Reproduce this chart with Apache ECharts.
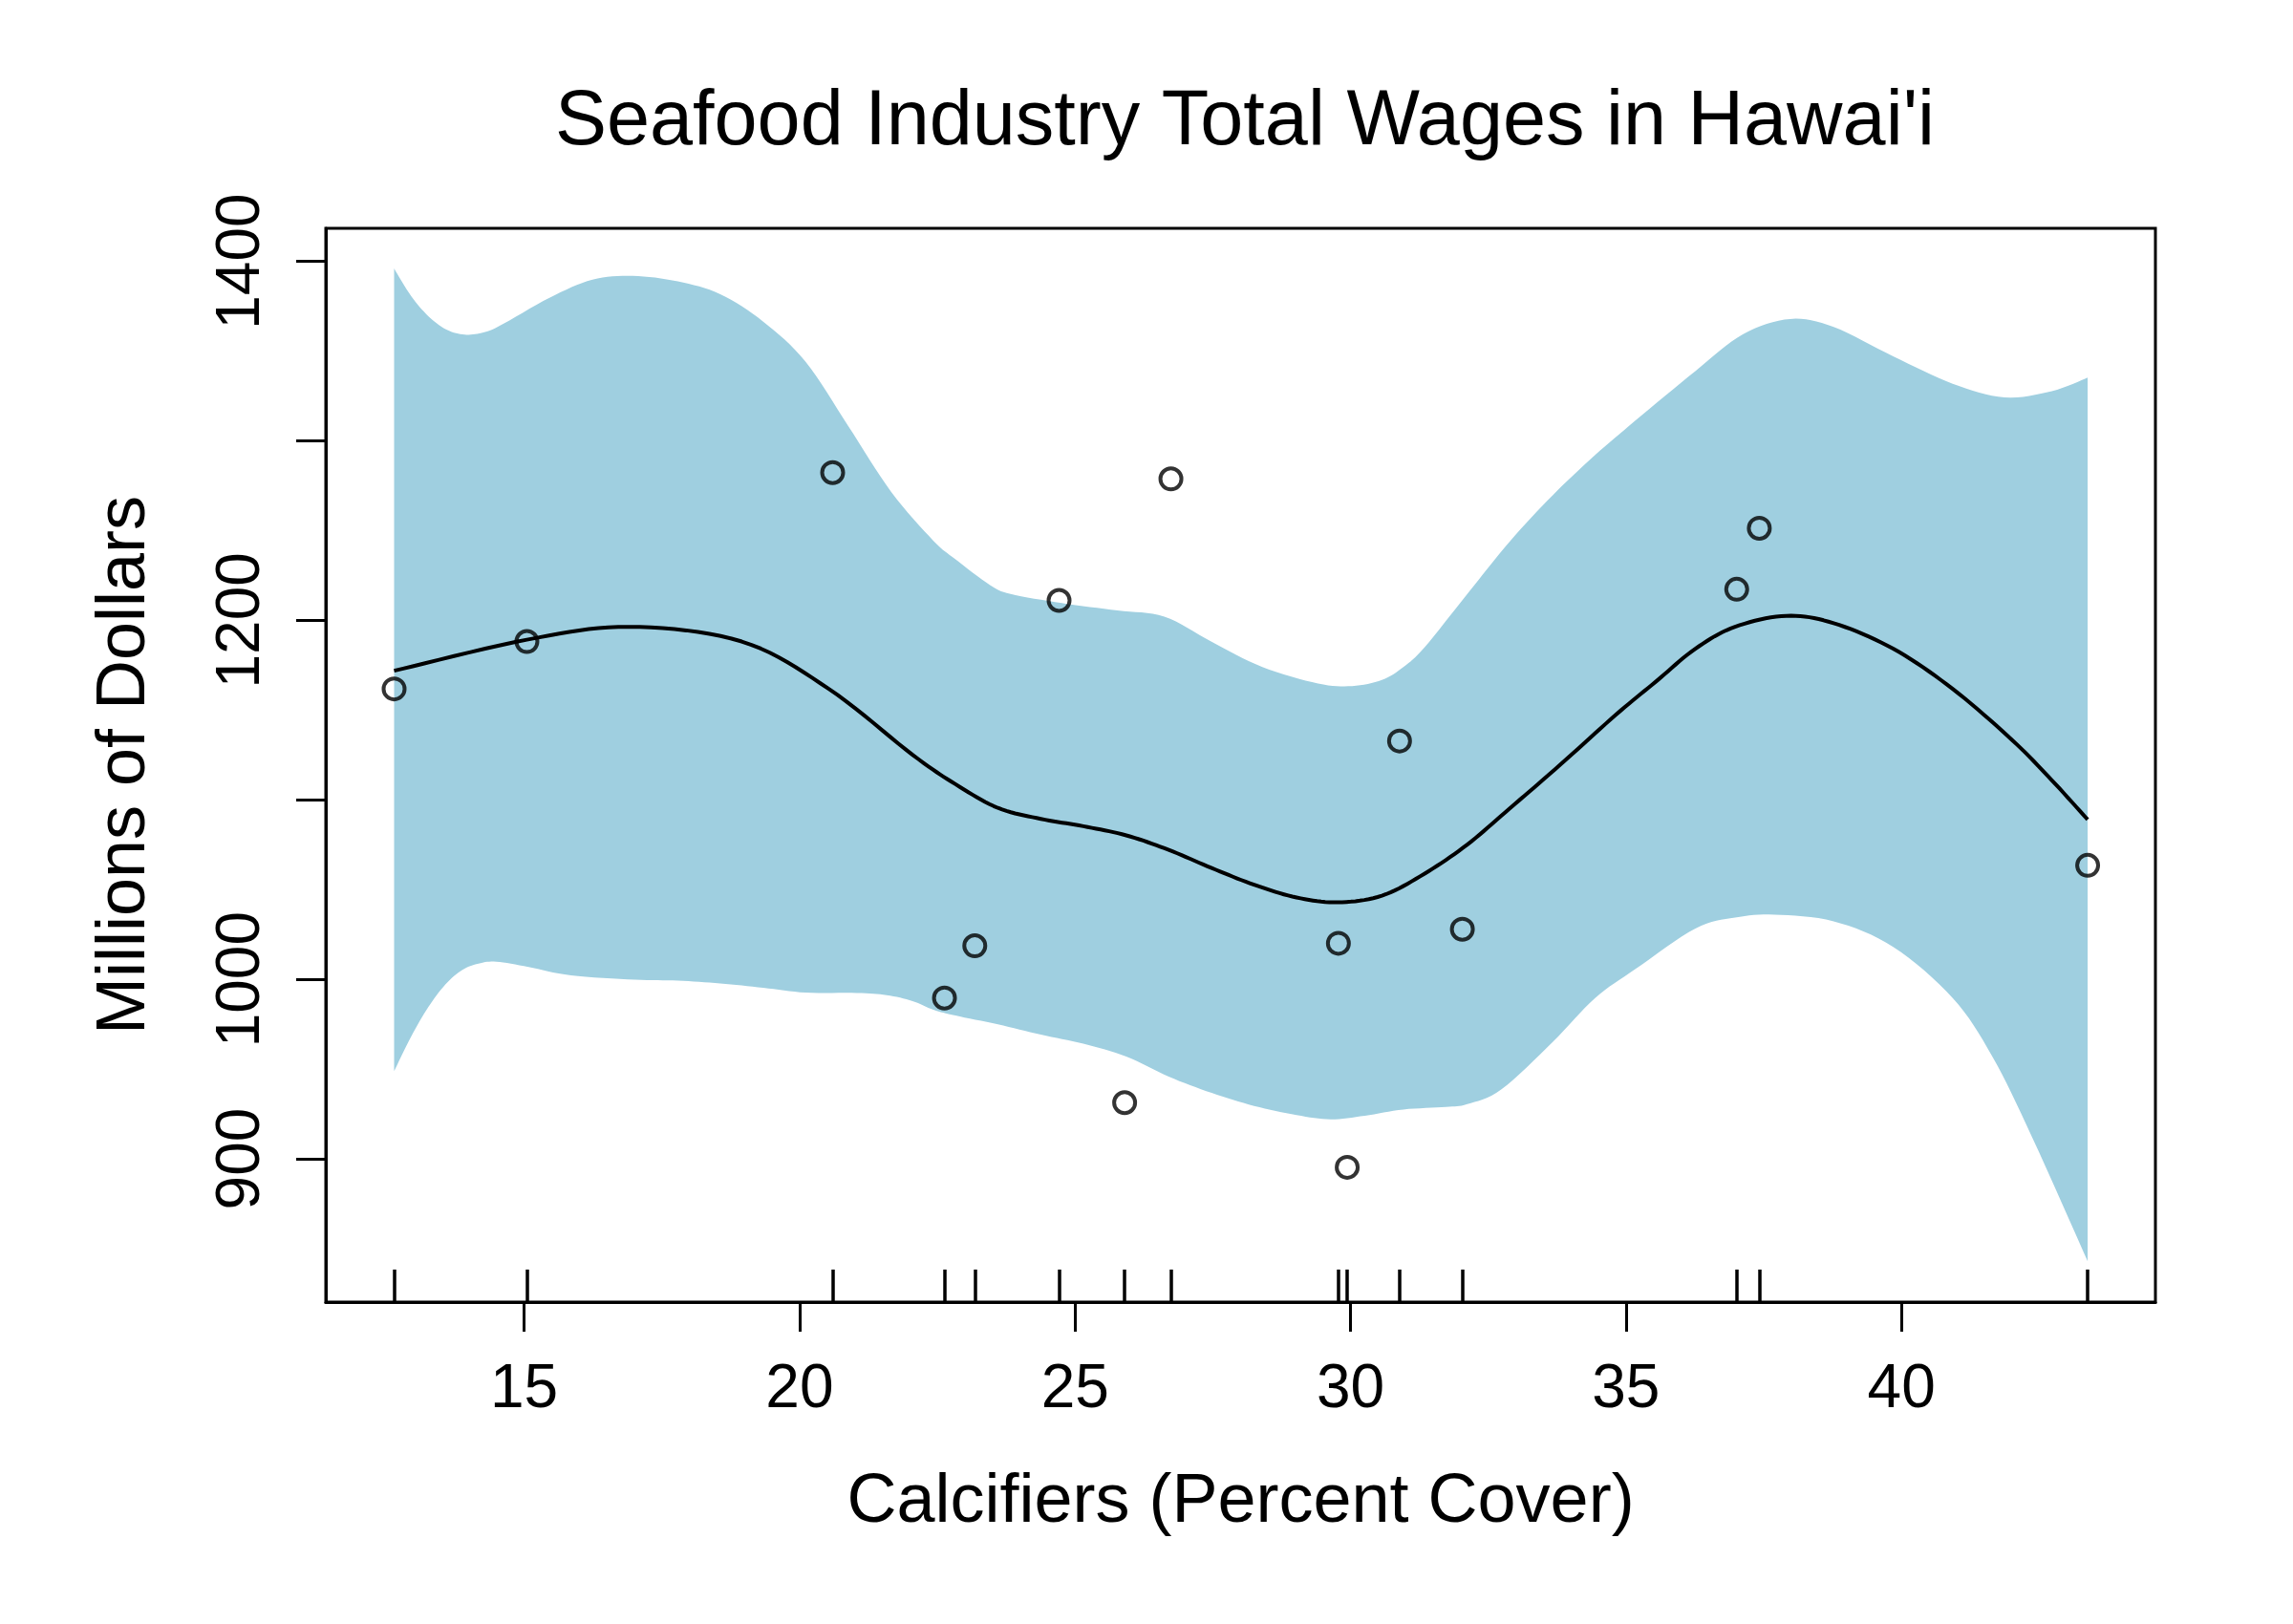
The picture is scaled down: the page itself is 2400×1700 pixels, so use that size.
<!DOCTYPE html>
<html>
<head>
<meta charset="utf-8">
<script src="https://cdn.jsdelivr.net/npm/echarts@6/dist/echarts.min.js"></script>
<style>html,body{margin:0;padding:0;background:#fff}#c{width:2400px;height:1700px}</style>
</head>
<body>
<div id="c"></div>
<script>
// Observed data
const calcifiers = [12.64, 15.05, 20.60, 22.63, 23.18, 24.71, 25.90, 26.74, 29.78, 29.94, 30.89, 32.03, 37.01, 37.42, 43.38];
const wages = [1161.8, 1188.2, 1282.3, 989.6, 1018.7, 1211.1, 931.3, 1278.8, 1020.1, 895.3, 1132.8, 1027.9, 1217.3, 1251.3, 1063.5];

// Fitted smooth curve
const fitX = [12.64, 15.05, 16.9, 18.95, 20.53, 22.05, 22.83, 23.60, 24.38, 25.15, 25.93, 26.70, 27.48, 28.25, 29.02, 29.77, 30.57, 31.34, 32.12, 32.90, 33.82, 34.82, 35.54, 36.26, 36.98, 37.91, 38.77, 39.85, 40.93, 42.01, 42.73, 43.38];
const fitY = [1171.9, 1189.2, 1196.4, 1188.2, 1161.8, 1125.1, 1108.7, 1095.5, 1089.4, 1085.3, 1080.2, 1072.1, 1062.0, 1052.7, 1045.6, 1042.9, 1046.6, 1058.8, 1075.1, 1095.5, 1119.9, 1147.5, 1165.8, 1184.2, 1196.4, 1202.5, 1198.4, 1184.2, 1161.8, 1133.3, 1110.9, 1089.0];

// Confidence band, upper edge
const upperX = [12.64, 12.95, 13.26, 13.57, 13.88, 14.19, 14.54, 15.46, 16.24, 16.97, 17.79, 18.56, 19.34, 20.11, 20.88, 21.66, 22.43, 22.83, 23.45, 23.83, 24.76, 25.77, 26.62, 27.47, 28.40, 29.41, 30.03, 30.57, 30.96, 31.35, 32.12, 32.90, 33.67, 34.44, 35.18, 36.26, 37.12, 37.98, 38.77, 39.85, 40.93, 41.87, 42.73, 43.38];
const upperY = [1396.0, 1380.6, 1369.5, 1362.3, 1359.3, 1359.9, 1363.8, 1379.7, 1389.8, 1391.9, 1388.8, 1381.7, 1366.4, 1344.0, 1308.4, 1271.7, 1244.3, 1234.0, 1219.8, 1214.7, 1209.6, 1205.5, 1202.1, 1188.2, 1174.0, 1164.8, 1163.4, 1166.8, 1174.0, 1185.2, 1214.7, 1244.3, 1269.7, 1292.1, 1311.5, 1338.9, 1359.3, 1367.9, 1363.4, 1347.1, 1331.8, 1324.2, 1327.7, 1335.2];

// Confidence band, lower edge
const lowerX = [12.64, 12.95, 13.26, 13.57, 13.88, 14.19, 14.50, 15.08, 15.85, 17.01, 17.79, 18.56, 19.34, 20.11, 21.04, 21.58, 22.05, 22.43, 22.83, 23.60, 24.38, 25.15, 25.93, 26.70, 27.48, 28.25, 29.02, 29.64, 30.26, 30.96, 31.73, 32.12, 32.74, 33.67, 34.44, 35.18, 36.26, 36.98, 37.70, 38.77, 39.85, 40.93, 41.65, 42.37, 43.38];
const lowerY = [948.8, 968.2, 984.5, 997.1, 1005.3, 1008.9, 1009.8, 1006.9, 1002.2, 999.8, 999.3, 997.7, 995.3, 992.6, 992.4, 991.2, 987.9, 983.0, 979.8, 974.9, 969.2, 964.1, 957.0, 945.8, 936.7, 929.5, 924.4, 922.0, 924.0, 927.5, 928.9, 930.5, 938.7, 965.1, 989.6, 1005.9, 1028.3, 1034.4, 1036.0, 1032.3, 1018.1, 989.6, 957.0, 912.2, 842.9];

// Axis ticks and labels
const xTicks = [15, 20, 25, 30, 35, 40];
const yTicks = [900, 1000, 1100, 1200, 1300, 1400];
const yLabels = [900, 1000, 1200, 1400];

const FONT = '"Liberation Sans", Arial, Helvetica, sans-serif';

function spline(pts, n) {
  const out = [];
  for (let i = 0; i < pts.length - 1; i++) {
    const p0 = pts[Math.max(i - 1, 0)], p1 = pts[i], p2 = pts[i + 1], p3 = pts[Math.min(i + 2, pts.length - 1)];
    for (let k = 0; k < n; k++) {
      const t = k / n, t2 = t * t, t3 = t2 * t;
      const f = (a, b, c, d) => 0.5 * (2 * b + (-a + c) * t + (2 * a - 5 * b + 4 * c - d) * t2 + (-a + 3 * b - 3 * c + d) * t3);
      out.push([f(p0[0], p1[0], p2[0], p3[0]), f(p0[1], p1[1], p2[1], p3[1])]);
    }
  }
  out.push(pts[pts.length - 1]);
  return out;
}

const chart = echarts.init(document.getElementById('c'), null, { renderer: 'canvas', width: 2400, height: 1700 });

const option = {
  backgroundColor: '#fff',
  animation: false,
  title: {
    text: "Seafood Industry Total Wages in Hawai'i",
    left: 1298,
    textAlign: 'center',
    top: 83,
    textStyle: { fontFamily: FONT, fontSize: 81, fontWeight: 'normal', color: '#000' }
  },
  grid: {
    left: 341, top: 239, right: 144, bottom: 337,
    show: true, borderColor: '#000', borderWidth: 3, backgroundColor: 'transparent',
    containLabel: false, outerBoundsMode: 'none'
  },
  xAxis: [{
    type: 'value', min: 11.4, max: 44.61, position: 'bottom',
    name: 'Calcifiers (Percent Cover)', nameLocation: 'middle', nameGap: 174,
    nameTextStyle: { fontFamily: FONT, fontSize: 72, color: '#000' },
    axisLine: { onZero: false, lineStyle: { color: '#000', width: 3 } },
    axisTick: { show: true, length: 31, lineStyle: { color: '#000', width: 3 }, customValues: xTicks },
    axisLabel: { fontFamily: FONT, fontSize: 64, color: '#000', margin: 60, customValues: xTicks },
    splitLine: { show: false }
  }, {
    type: 'value', min: 11.4, max: 44.61, position: 'bottom',
    axisLine: { show: false, onZero: false },
    axisTick: { show: true, inside: true, length: 34, lineStyle: { color: '#000', width: 3.5 }, customValues: calcifiers },
    axisLabel: { show: false },
    splitLine: { show: false }
  }],
  yAxis: {
    type: 'value', min: 820.2, max: 1418.4,
    name: 'Millions of Dollars', nameLocation: 'middle', nameGap: 174,
    nameTextStyle: { fontFamily: FONT, fontSize: 72, color: '#000' },
    axisLine: { show: true, onZero: false, lineStyle: { color: '#000', width: 3 } },
    axisTick: { show: true, length: 31, lineStyle: { color: '#000', width: 3 }, customValues: yTicks },
    axisLabel: { fontFamily: FONT, fontSize: 64, color: '#000', rotate: 90, margin: 56, customValues: yLabels,
      formatter: function (v) { return String(Math.round(v)); } },
    splitLine: { show: false }
  },
  series: [{
    type: 'custom',
    xAxisIndex: 0,
    z: 1,
    silent: true,
    data: [[upperX[0], upperY[0]]],
    renderItem: function (params, api) {
      const up = upperX.map((x, i) => api.coord([x, upperY[i]]));
      const lo = lowerX.map((x, i) => api.coord([x, lowerY[i]]));
      const pts = spline(up, 8).concat(spline(lo, 8).reverse());
      return { type: 'polygon', shape: { points: pts }, style: { fill: '#9fcfe0', stroke: null } };
    }
  }, {
    type: 'custom',
    xAxisIndex: 0,
    z: 3,
    silent: true,
    data: [[fitX[0], fitY[0]]],
    renderItem: function (params, api) {
      const pts = spline(fitX.map((x, i) => api.coord([x, fitY[i]])), 10);
      return { type: 'polyline', shape: { points: pts }, style: { fill: null, stroke: '#000', lineWidth: 4, lineJoin: 'round' } };
    }
  }, {
    type: 'scatter',
    xAxisIndex: 0,
    z: 4,
    data: calcifiers.map((x, i) => [x, wages[i]]),
    symbol: 'circle',
    symbolSize: 22,
    itemStyle: { color: 'rgba(0,0,0,0)', borderColor: '#000', borderWidth: 4 }
  }]
};
chart.setOption(option);
</script>
</body>
</html>
